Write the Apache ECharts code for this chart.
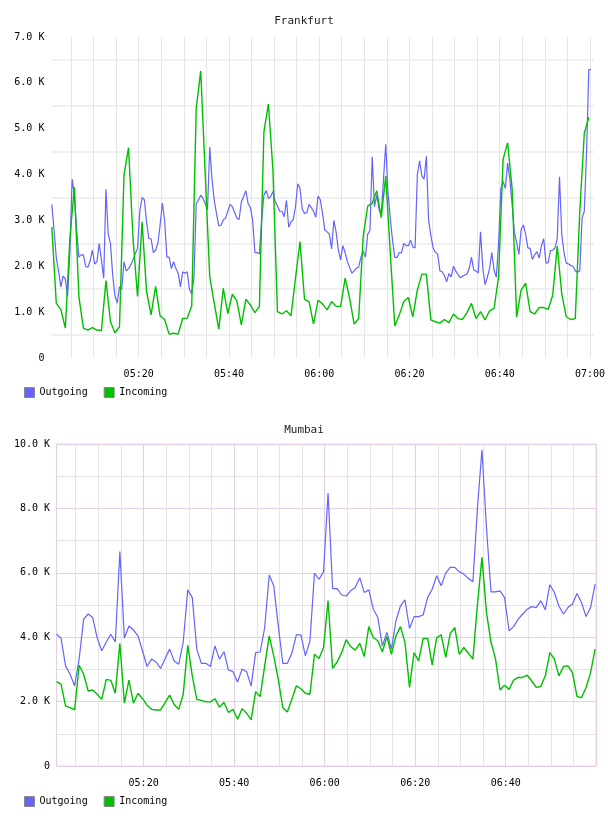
<!DOCTYPE html>
<html lang="en">
<head>
<meta charset="UTF-8">
<title>Traffic</title>
<script src="https://cdn.jsdelivr.net/npm/echarts@6/dist/echarts.min.js"></script>
<style>
    body { margin: 0; background: #fff; }
    .box { width: 608px; height: 408px; }
</style>
</head>
<body>
<div id="fra" class="box"></div>
<div id="bom" class="box"></div>

<script>
// samples are minutes after 05:00, values in K
const startMin = 0.75;
const outStepFra = 0.5;
const inStepFra = 1;
const stepBom = 1;

const fraOut = [
    3.35, 2.79, 2.18, 1.9, 1.55, 1.79, 1.72, 1.34, 2.3, 3.9,
    3.55, 2.8, 2.2, 2.25, 2.25, 2.0, 1.98, 2.12, 2.35, 2.05,
    2.1, 2.5, 2.14, 1.74, 3.68, 2.7, 2.5, 1.8, 1.35, 1.2,
    1.55, 1.5, 2.1, 1.9, 1.95, 2.03, 2.14, 2.28, 2.39, 3.2,
    3.5, 3.45, 2.97, 2.6, 2.6, 2.3, 2.35, 2.5, 2.9, 3.38,
    3.0, 2.2, 2.2, 1.95, 2.1, 1.95, 1.85, 1.55, 1.88, 1.85,
    1.88, 1.5, 1.4, 1.75, 3.37, 3.44, 3.55, 3.48, 3.37, 3.23,
    4.6, 3.9, 3.44, 3.15, 2.88, 2.9, 3.01, 3.05, 3.2, 3.35,
    3.3, 3.18, 3.05, 3.02, 3.4, 3.52, 3.65, 3.37, 3.28, 3.01,
    2.3, 2.3, 2.27, 3.0, 3.55, 3.65, 3.48, 3.52, 3.63, 3.41,
    3.32, 3.2, 3.2, 3.08, 3.44, 2.85, 2.97, 3.02, 3.3, 3.8,
    3.7, 3.25, 3.15, 3.17, 3.35, 3.28, 3.2, 3.07, 3.53, 3.45,
    3.15, 2.79, 2.75, 2.7, 2.38, 3.0, 2.75, 2.35, 2.14, 2.45,
    2.3, 2.1, 1.97, 1.85, 1.9, 1.96, 1.98, 2.2, 2.33, 2.2,
    2.7, 2.78, 4.39, 3.3, 3.55, 3.25, 3.12, 3.9, 4.66, 3.6,
    3.05, 2.57, 2.2, 2.19, 2.3, 2.3, 2.5, 2.45, 2.45, 2.57,
    2.42, 2.4, 4.0, 4.3, 3.97, 3.9, 4.4, 3.0, 2.67, 2.4,
    2.3, 2.27, 1.9, 1.88, 1.8, 1.66, 1.84, 1.77, 2.0, 1.9,
    1.82, 1.75, 1.78, 1.81, 1.83, 1.95, 2.2, 1.92, 1.9, 1.85,
    2.75, 1.97, 1.6, 1.75, 1.95, 2.3, 1.92, 1.76, 2.5, 3.68,
    3.85, 3.7, 4.25, 3.9, 3.35, 2.75, 2.52, 2.26, 2.8, 2.9,
    2.7, 2.4, 2.39, 2.15, 2.25, 2.32, 2.18, 2.45, 2.6, 2.07,
    2.08, 2.34, 2.35, 2.4, 2.6, 3.95, 2.7, 2.3, 2.07, 2.05,
    2.02, 2.0, 1.9, 1.87, 1.9, 3.05, 3.2, 4.5, 6.29, 6.29
];

const fraIn = [
    2.86, 1.19, 1.06, 0.65, 2.6, 3.73, 1.34, 0.65, 0.61, 0.66,
    0.61, 0.6, 1.69, 0.79, 0.55, 0.68, 3.99, 4.59, 2.6, 1.34,
    2.97, 1.45, 0.94, 1.56, 0.92, 0.84, 0.52, 0.54, 0.52, 0.86,
    0.87, 1.13, 5.44, 6.26, 4.0, 1.77, 1.19, 0.63, 1.52, 0.97,
    1.39, 1.25, 0.72, 1.28, 1.16, 0.99, 1.12, 4.93, 5.54, 4.1,
    1.01, 0.96, 1.03, 0.92, 1.74, 2.54, 1.28, 1.23, 0.74, 1.26,
    1.18, 1.05, 1.23, 1.13, 1.12, 1.74, 1.3, 0.74, 0.86, 2.65,
    3.31, 3.37, 3.65, 3.06, 3.97, 2.3, 0.70, 0.94, 1.23, 1.32,
    0.90, 1.48, 1.83, 1.83, 0.83, 0.79, 0.76, 0.84, 0.77, 0.96,
    0.86, 0.84, 0.99, 1.19, 0.86, 1.01, 0.83, 1.03, 1.08, 1.77,
    4.33, 4.69, 3.7, 0.89, 1.48, 1.63, 1.01, 0.96, 1.10, 1.10,
    1.06, 1.37, 2.44, 1.40, 0.90, 0.84, 0.86, 3.2, 4.90, 5.25
];

const bomOut = [
    4.09, 3.97, 3.11, 2.85, 2.49, 3.32, 4.56, 4.72, 4.61, 3.97,
    3.58, 3.85, 4.09, 3.85, 6.66, 3.97, 4.35, 4.23, 4.04, 3.58,
    3.09, 3.32, 3.23, 3.03, 3.34, 3.63, 3.26, 3.16, 3.85, 5.47,
    5.23, 3.63, 3.19, 3.19, 3.09, 3.73, 3.32, 3.55, 2.98, 2.93,
    2.61, 3.01, 2.93, 2.48, 3.52, 3.54, 4.3, 5.93, 5.60, 4.35,
    3.19, 3.19, 3.50, 4.07, 4.07, 3.42, 3.89, 5.99, 5.80, 6.03,
    8.48, 5.51, 5.51, 5.31, 5.28, 5.44, 5.54, 5.85, 5.39, 5.47,
    4.87, 4.61, 3.73, 4.15, 3.63, 4.51, 4.97, 5.16, 4.27, 4.64,
    4.64, 4.69, 5.23, 5.49, 5.91, 5.60, 5.99, 6.17, 6.17, 6.03,
    5.96, 5.82, 5.72, 8.0, 9.82, 7.4, 5.41, 5.41, 5.44, 5.23,
    4.20, 4.33, 4.56, 4.72, 4.87, 4.95, 4.92, 5.13, 4.85, 5.63,
    5.39, 4.97, 4.72, 4.92, 5.03, 5.36, 5.08, 4.64, 4.92, 5.65
];

const bomIn = [
    2.62, 2.54, 1.87, 1.81, 1.74, 3.13, 2.85, 2.33, 2.36, 2.23,
    2.07, 2.69, 2.66, 2.26, 3.81, 1.95, 2.67, 1.95, 2.26, 2.09,
    1.89, 1.76, 1.74, 1.74, 1.97, 2.20, 1.91, 1.76, 2.23, 3.75,
    2.80, 2.07, 2.04, 1.99, 1.99, 2.09, 1.83, 1.97, 1.66, 1.76,
    1.45, 1.78, 1.64, 1.43, 2.31, 2.16, 3.11, 4.04, 3.42, 2.69,
    1.81, 1.68, 2.07, 2.49, 2.40, 2.26, 2.23, 3.47, 3.34, 3.68,
    5.14, 3.03, 3.23, 3.52, 3.92, 3.71, 3.60, 3.81, 3.40, 4.33,
    3.99, 3.89, 3.54, 4.02, 3.47, 4.04, 4.33, 3.83, 2.44, 3.52,
    3.26, 3.96, 3.96, 3.14, 3.99, 4.07, 3.37, 4.12, 4.30, 3.47,
    3.68, 3.50, 3.32, 5.0, 6.48, 4.77, 3.85, 3.32, 2.36, 2.51,
    2.38, 2.67, 2.75, 2.75, 2.82, 2.64, 2.44, 2.47, 2.80, 3.52,
    3.32, 2.80, 3.09, 3.11, 2.90, 2.16, 2.12, 2.44, 2.90, 3.63
];

const mono = '"DejaVu Sans Mono", monospace';
const blue = '#6464fa';
const green = '#00be00';

function pairs(vals, step) {
    return vals.map((v, i) => [startMin + i * step, v]);
}

function hhmm(m) {
    if (Math.abs(m - Math.round(m / 20) * 20) > 0.001) return '';
    const h = 5 + Math.floor(Math.round(m) / 60);
    const mm = Math.round(m) % 60;
    return String(h).padStart(2, '0') + ':' + String(mm).padStart(2, '0');
}

function kLabel(v) {
    return v === 0 ? '0' : v.toFixed(1) + ' K';
}

function baseOption(name, out, inc, outStep, inStep) {
    return {
        animation: false,
        title: {
            text: name, left: 'center', top: 11,
            textStyle: { fontFamily: mono, fontSize: 11, fontWeight: 'normal', color: '#222' }
        },
        legend: {
            left: 24, top: 387, padding: 0,
            icon: 'rect', itemWidth: 10, itemHeight: 10, itemGap: 16,
            data: ['Outgoing', 'Incoming'],
            itemStyle: { borderColor: '#888', borderWidth: 1 },
            textStyle: { fontFamily: mono, fontSize: 10, color: '#000' }
        },
        series: [
            {
                name: 'Outgoing', type: 'line', showSymbol: false, data: pairs(out, outStep),
                lineStyle: { width: 1.2, color: blue }, itemStyle: { color: blue }
            },
            {
                name: 'Incoming', type: 'line', showSymbol: false, data: pairs(inc, inStep),
                lineStyle: { width: 1.4, color: green }, itemStyle: { color: green }
            }
        ]
    };
}

// Frankfurt
let fra = echarts.init(document.getElementById('fra'));
let optFra = baseOption('Frankfurt', fraOut, fraIn, outStepFra, inStepFra);
optFra.grid = { left: 51.4, right: 12, top: 37, bottom: 50 };
optFra.xAxis = {
    type: 'value', min: 0.66, max: 120.9, splitNumber: 24, minInterval: 5, maxInterval: 5,
    axisLine: { show: false }, axisTick: { show: false },
    axisLabel: { formatter: hhmm, fontFamily: mono, fontSize: 10, color: '#000', margin: 11, showMinLabel: false, showMaxLabel: false },
    splitLine: { show: true, showMinLine: false, showMaxLine: false, lineStyle: { color: '#e6e6e6', width: 1 } }
};
optFra.yAxis = {
    type: 'value', min: 0, max: 7, interval: 1,
    axisLine: { show: false }, axisTick: { show: false },
    axisLabel: { formatter: kLabel, fontFamily: mono, fontSize: 10, color: '#000', margin: 7 },
    splitLine: { show: false },
    minorTick: { show: false, splitNumber: 2 },
    minorSplitLine: { show: true, lineStyle: { color: '#f0f0f0', width: 2 } }
};
fra.setOption(optFra);

// Mumbai
let bom = echarts.init(document.getElementById('bom'));
let optBom = baseOption('Mumbai', bomOut, bomIn, stepBom, stepBom);
optBom.title.top = 12;
optBom.legend.top = 388;
optBom.grid = { left: 56.5, right: 12, top: 36, bottom: 50, show: true, borderColor: '#ead8ea', borderWidth: 1 };
optBom.xAxis = [
    {
        type: 'value', min: 0.75, max: 119.95, splitNumber: 24, minInterval: 5, maxInterval: 5,
        axisLine: { show: false }, axisTick: { show: false },
        axisLabel: { formatter: hhmm, fontFamily: mono, fontSize: 10, color: '#000', margin: 12, showMinLabel: false, showMaxLabel: false },
        splitLine: { show: true, lineStyle: { color: '#e4e4e4', width: 1 } }
    },
    {
        type: 'value', min: 0.75, max: 119.95, splitNumber: 6, minInterval: 20, maxInterval: 20, z: 1,
        axisLine: { show: false }, axisTick: { show: false }, axisLabel: { show: false },
        splitLine: { show: true, lineStyle: { color: '#e4cfe4', width: 1 } }
    }
];
optBom.yAxis = {
    type: 'value', min: 0, max: 10, interval: 2,
    axisLine: { show: false }, axisTick: { show: false },
    axisLabel: { formatter: kLabel, fontFamily: mono, fontSize: 10, color: '#000', margin: 6.5 },
    splitLine: { show: true, lineStyle: { color: '#e4cfe4', width: 1 } },
    minorTick: { show: false, splitNumber: 2 },
    minorSplitLine: { show: true, lineStyle: { color: '#e4e4e4', width: 1 } }
};
bom.setOption(optBom);
</script>
</body>
</html>
